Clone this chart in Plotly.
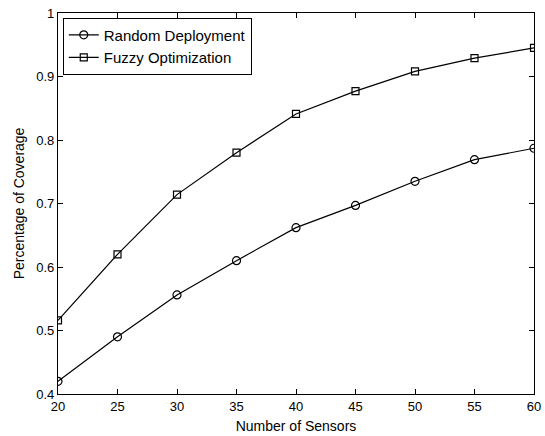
import plotly.graph_objects as go

# Number of sensors deployed
sensors = [20, 25, 30, 35, 40, 45, 50, 55, 60]

# Fraction of the area covered for each strategy
random_deployment = [0.420, 0.490, 0.556, 0.610, 0.662, 0.697, 0.735, 0.769, 0.787]
fuzzy_optimization = [0.516, 0.620, 0.714, 0.780, 0.841, 0.877, 0.908, 0.929, 0.945]

x_ticks = [20, 25, 30, 35, 40, 45, 50, 55, 60]
y_ticks = [0.4, 0.5, 0.6, 0.7, 0.8, 0.9, 1.0]
y_tick_text = ["0.4", "0.5", "0.6", "0.7", "0.8", "0.9", "1"]

FONT = "Liberation Sans, Arial, sans-serif"

fig = go.Figure()
fig.add_trace(go.Scatter(
    x=sensors, y=random_deployment, name="Random Deployment",
    mode="lines+markers",
    line=dict(color="black", width=1.2),
    marker=dict(symbol="circle-open", size=8, color="black", line=dict(width=1.2)),
))
fig.add_trace(go.Scatter(
    x=sensors, y=fuzzy_optimization, name="Fuzzy Optimization",
    mode="lines+markers",
    line=dict(color="black", width=1.2),
    marker=dict(symbol="square-open", size=7, color="black", line=dict(width=1.2)),
))

axis_common = dict(
    showline=True, linecolor="black", linewidth=1.2, mirror="ticks",
    ticks="inside", ticklen=5, tickcolor="black", tickwidth=1,
    showgrid=False, zeroline=False,
    tickfont=dict(family=FONT, size=13, color="black"),
    title_font=dict(family=FONT, size=14, color="black"),
)

fig.update_xaxes(
    range=[20, 60], tickvals=x_ticks, title_text="Number of Sensors",
    title_standoff=8, ticklabeloverflow="allow", **axis_common,
)
fig.update_yaxes(
    range=[0.4, 1.0], tickvals=y_ticks, ticktext=y_tick_text,
    title_text="Percentage of Coverage", title_standoff=8, **axis_common,
)

fig.update_layout(
    width=545, height=436,
    margin=dict(l=58, r=4, t=13, b=41),
    paper_bgcolor="white", plot_bgcolor="white",
    showlegend=True,
    legend=dict(
        x=0.01, y=0.988, xanchor="left", yanchor="top",
        bgcolor="white", bordercolor="black", borderwidth=1,
        font=dict(family=FONT, size=15, color="black"),
        tracegroupgap=0, itemwidth=30,
    ),
)

fig.write_html("out.html")
